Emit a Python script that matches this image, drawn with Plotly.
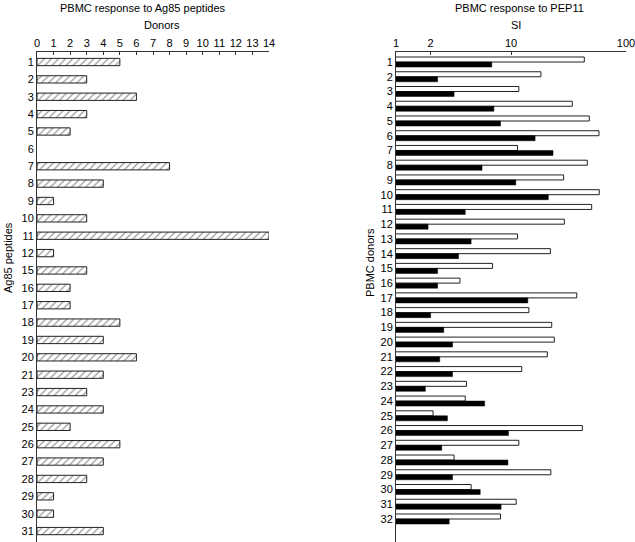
import plotly.graph_objects as go

# Left panel: number of donors responding to each Ag85 peptide
peptides = ["1", "2", "3", "4", "5", "6", "7", "8", "9", "10", "11", "12", "15", "16",
            "17", "18", "19", "20", "21", "23", "24", "25", "26", "27", "28", "29", "30", "31"]
donors_count = [5, 3, 6, 3, 2, 0, 8, 4, 1, 3, 14, 1, 3, 2,
                2, 5, 4, 6, 4, 3, 4, 2, 5, 4, 3, 1, 1, 4]

# Right panel: SI of PBMC donors to PEP11 (white = open bars, black = filled bars)
donor_ids = [str(i) for i in range(1, 33)]
si_white = [43.4, 18.2, 11.7, 34.1, 48.0, 58.2, 11.4, 46.1, 28.7, 58.6, 50.3, 29.1, 11.4, 22.0,
            6.9, 3.6, 37.3, 14.3, 22.6, 23.8, 20.7, 12.4, 4.1, 4.0, 2.1, 41.7, 11.7, 3.2,
            22.2, 4.5, 11.1, 8.1]
si_black = [6.8, 2.3, 3.2, 7.1, 8.1, 16.2, 23.2, 5.6, 11.0, 21.1, 4.0, 1.9, 4.5, 3.5,
            2.3, 2.3, 14.0, 2.0, 2.6, 3.1, 2.4, 3.1, 1.8, 5.9, 2.8, 9.5, 2.5, 9.4,
            3.1, 5.4, 8.2, 2.9]

left_ticks = list(range(0, 15))
right_ticks = [1, 2, 10, 100]

W, H = 635, 542
FONT = "Liberation Sans, Arial, sans-serif"
LC = "#333333"
TC = "#000000"

fig = go.Figure()

fig.add_trace(go.Bar(
    x=donors_count, y=peptides, orientation="h", xaxis="x", yaxis="y",
    width=0.42,
    marker=dict(color="white",
                line=dict(color="#222222", width=[0 if v == 0 else 1 for v in donors_count]),
                pattern=dict(shape="/", fgcolor="#333333", bgcolor="white",
                             size=5, solidity=0.25)),
    showlegend=False, hoverinfo="skip",
))

fig.add_trace(go.Bar(
    x=si_white, y=donor_ids, orientation="h", xaxis="x2", yaxis="y2",
    width=0.34, offset=-0.34,
    marker=dict(color="white", line=dict(color="#222222", width=1)),
    showlegend=False, hoverinfo="skip",
))
fig.add_trace(go.Bar(
    x=si_black, y=donor_ids, orientation="h", xaxis="x2", yaxis="y2",
    width=0.34, offset=0.0,
    marker=dict(color="black", line=dict(color="black", width=0.5)),
    showlegend=False, hoverinfo="skip",
))

ytop = 1 - 52 / H

common = dict(showgrid=False, zeroline=False, automargin=False,
              showline=True, linecolor=LC, linewidth=1,
              tickfont=dict(size=11, color=TC), ticklabeloverflow="allow")

fig.update_layout(
    width=W, height=H,
    margin=dict(l=0, r=0, t=0, b=0),
    paper_bgcolor="white", plot_bgcolor="white",
    font=dict(family=FONT, size=11, color=TC),
    barmode="overlay",
    xaxis=dict(domain=[37 / W, 269 / W], anchor="y", side="top",
               range=[0, 14], tickvals=left_ticks, ticks="inside", ticklen=3,
               tickcolor=LC, **common),
    yaxis=dict(domain=[0, ytop], anchor="x", type="category",
               categoryorder="array", categoryarray=peptides,
               range=[27.63, -0.576], ticks="", **common),
    xaxis2=dict(domain=[396 / W, 626 / W], anchor="y2", side="top", type="log",
                range=[0, 2], tickvals=right_ticks, ticktext=[str(t) for t in right_ticks],
                ticks="inside", ticklen=3, tickcolor=LC, **common),
    yaxis2=dict(domain=[0, ytop], anchor="x2", type="category",
                categoryorder="array", categoryarray=donor_ids,
                range=[32.56, -0.68], ticks="", **common),
)

ann = [
    dict(text="PBMC response to Ag85 peptides", x=143 / W, y=1 - 8 / H),
    dict(text="Donors", x=162 / W, y=1 - 25 / H),
    dict(text="PBMC response to PEP11", x=519 / W, y=1 - 8 / H),
    dict(text="SI", x=516 / W, y=1 - 25 / H),
    dict(text="Ag85 peptides", x=8 / W, y=1 - 258 / H, textangle=-90),
    dict(text="PBMC donors", x=370 / W, y=1 - 263 / H, textangle=-90),
]
for a in ann:
    fig.add_annotation(xref="paper", yref="paper", showarrow=False,
                       xanchor="center", yanchor="middle",
                       font=dict(family=FONT, size=11, color=TC), **a)

fig.write_html("out.html", config={"displayModeBar": False},
               post_script="document.body.style.margin='0px';document.body.style.padding='0px';")
